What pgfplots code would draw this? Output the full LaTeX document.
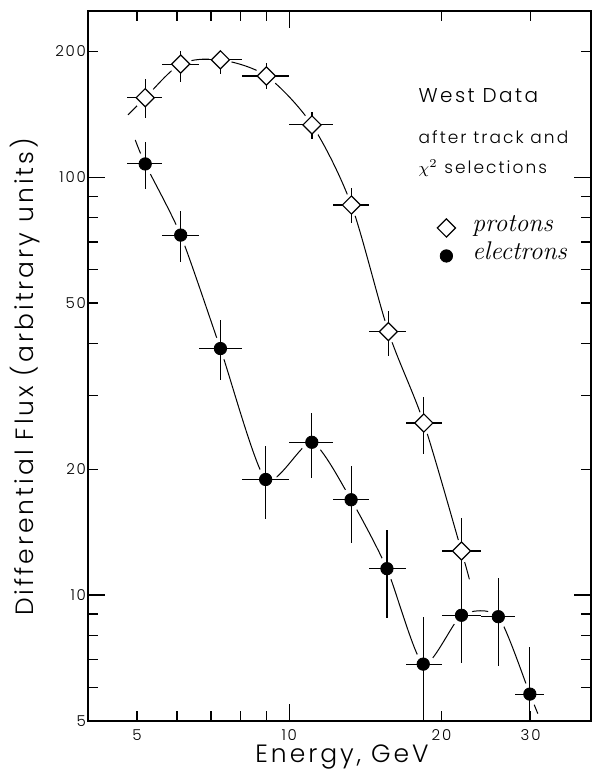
\documentclass[border=0pt]{standalone}
\usepackage{fontspec}
\setmainfont{Poppins}[UprightFont={* Light}, LetterSpace=12]
\usepackage{pgfplots}
\usepackage{pgfplotstable}
\pgfplotsset{compat=1.18}

\pgfplotstableread{
x y xm xp ym yp
5.19 155 4.78 5.61 138.5 171.5
6.10 186.6 5.61 6.62 169.3 200
7.31 191 6.62 8.05 176.6 200
9.01 174.7 8.05 10.0 162.6 187.5
11.09 133.4 10.0 12.2 123.3 143.5
13.27 85.8 12.2 14.4 77.6 94.1
15.7 42.7 14.4 17.0 37.3 47.9
18.45 25.8 17.0 20.0 21.8 29.7
21.9 12.74 20.0 23.9 10.6 15.3
}\protons

\pgfplotstableread{
x y xm xp ym yp
5.19 107.6 4.78 5.61 93.7 121.7
6.10 72.7 5.61 6.62 62.8 83.0
7.31 38.9 6.62 8.05 32.7 45.4
8.98 18.9 8.05 10.0 15.2 22.7
11.08 23.2 10.0 12.2 19.1 27.2
13.25 16.9 12.2 14.4 13.3 20.4
15.6 11.56 14.4 17.0 8.8 14.3
18.4 6.83 17.0 20.0 4.9 8.84
21.9 8.94 20.0 23.9 6.86 11.2
25.9 8.87 23.9 27.9 6.76 10.97
29.9 5.79 27.9 31.9 4.5 7.52
}\electrons

\pgfplotstableread{
x y
4.80 141
5.19 155
6.10 186.6
7.31 191
9.01 174.7
11.09 133.4
13.27 85.8
15.7 42.7
18.45 25.8
21.9 12.74
22.7 10.9
}\protoncurve

\pgfplotstableread{
x y
4.96 122.8
5.19 107.6
6.10 72.7
7.31 38.9
8.98 18.9
11.08 23.2
13.25 16.9
15.6 11.56
18.4 6.83
21.9 8.94
25.9 8.87
29.9 5.79
31.0 5.2
}\electroncurve

\begin{document}
\begin{tikzpicture}
\useasboundingbox (-44pt,-25.15pt) rectangle (252pt,360.35pt);
\begin{axis}[
  clip marker paths=true,
  at={(0,0)}, anchor=south west,
  scale only axis,
  width=251.5pt, height=354.85pt,
  xmode=log, ymode=log,
  xmin=4, xmax=39.5, ymin=5, ymax=250,
  axis line style={line width=0.9pt},
  every tick/.style={black, line width=0.6pt},
  major tick length=8.5pt, minor tick length=4.8pt,
  xtick={10}, xticklabels={10},
  ytick={10,100}, yticklabels={10,100},
  minor xtick={5,6,7,8,9,20,30},
  minor ytick={6,7,8,9,20,30,40,50,60,70,80,90,200},
  extra x ticks={5,20,30}, extra x tick labels={5,20,30},
  extra y ticks={5,20,50,200}, extra y tick labels={5,20,50,200},
  extra x tick style={major tick length=0pt},
  extra y tick style={major tick length=0pt},
  tick label style={font=\fontsize{7.5}{9}\selectfont},
  xticklabel style={yshift=-1pt},
  yticklabel style={xshift=2.5pt},
  xlabel={Energy, GeV},
  ylabel={Differential Flux (arbitrary units)},
  label style={font=\fontsize{12.5}{15}\selectfont},
  xlabel style={at={(axis description cs:0.505,-0.0596)}, anchor=base},
  ylabel style={at={(axis description cs:-0.1093,0.4843)}, anchor=base, rotate=0},
  legend style={at={(rel axis cs:0.6945,0.714)}, anchor=north west, draw=none, fill=none,
    inner sep=0pt, outer sep=0pt, row sep=0pt,
    font=\fontfamily{lmr}\itshape\fontsize{12.8}{14}\selectfont,
    nodes={inner sep=0pt, text height=9pt, text depth=5pt}},
  legend cell align=left,
]
% curves
\addplot[black, line width=0.5pt, smooth, no marks, forget plot] table[x=x,y=y]{\protoncurve};
\addplot[black, line width=0.5pt, smooth, tension=0.4, no marks, forget plot] table[x=x,y=y]{\electroncurve};
% white halos (gaps in the curves)
\addplot[only marks, mark=*, mark size=5.5pt, white, forget plot] table[x=x,y=y]{\protons};
\addplot[only marks, mark=*, mark size=5.5pt, white, forget plot] table[x=x,y=y]{\electrons};
% data with error bars
\addplot[black, only marks, mark=square*, mark size=3.2pt,
  mark options={rotate=45, fill=white, draw=black, line width=0.6pt}, forget plot,
  error bars/.cd, x dir=both, x explicit, y dir=both, y explicit,
  error bar style={line width=0.55pt}, error mark=none]
  table[x=x, y=y,
    x error minus expr=\thisrow{x}-\thisrow{xm}, x error plus expr=\thisrow{xp}-\thisrow{x},
    y error minus expr=\thisrow{y}-\thisrow{ym}, y error plus expr=\thisrow{yp}-\thisrow{y}]{\protons};
\addplot[black, only marks, mark=*, mark size=3.1pt, forget plot,
  error bars/.cd, x dir=both, x explicit, y dir=both, y explicit,
  error bar style={line width=0.55pt}, error mark=none]
  table[x=x, y=y,
    x error minus expr=\thisrow{x}-\thisrow{xm}, x error plus expr=\thisrow{xp}-\thisrow{x},
    y error minus expr=\thisrow{y}-\thisrow{ym}, y error plus expr=\thisrow{yp}-\thisrow{y}]{\electrons};
% legend
\addlegendimage{black, only marks, mark=square*, mark size=3.2pt, mark options={rotate=45, fill=white, draw=black, line width=0.6pt}}
\addlegendentry{\hspace*{8.5pt}protons}
\addlegendimage{black, only marks, mark=*, mark size=3.1pt}
\addlegendentry{\hspace*{8.5pt}electrons}
% annotations
\node[anchor=base west, inner sep=0pt, font=\fontsize{10}{12}\selectfont] at (rel axis cs:0.6567,0.8704) {West Data};
\node[anchor=base west, inner sep=0pt, font=\fontsize{8.5}{10}\selectfont] at (rel axis cs:0.6567,0.814) {after track and};
\node[anchor=base west, inner sep=0pt, font=\fontsize{8.5}{10}\selectfont] at (rel axis cs:0.6567,0.7716) {$\chi^2$ selections};
\end{axis}
\end{tikzpicture}
\end{document}
